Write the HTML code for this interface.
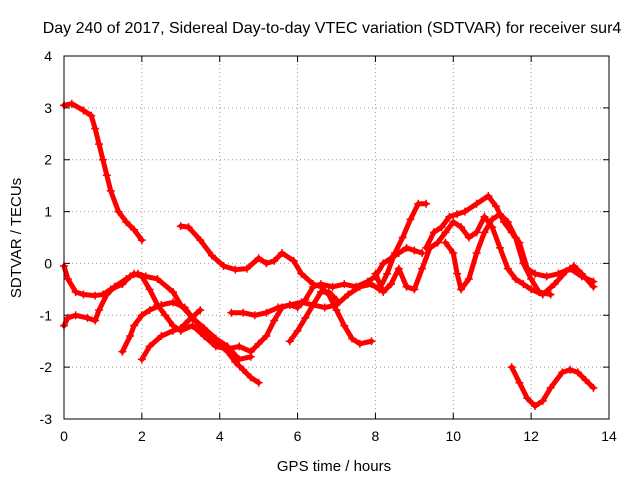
<!DOCTYPE html>
<html><head><meta charset="utf-8"><style>
body{margin:0;background:#fff}
svg{display:block;font-family:"Liberation Sans",sans-serif}
</style></head><body>
<svg width="640" height="480">
<text x="332" y="33" text-anchor="middle" font-size="16">Day 240 of 2017, Sidereal Day-to-day VTEC variation (SDTVAR) for receiver sur4</text>
<text x="334" y="471" text-anchor="middle" font-size="15">GPS time / hours</text>
<text transform="translate(21,238) rotate(-90)" text-anchor="middle" font-size="15">SDTVAR / TECUs</text>
<g id="grid"></g><g id="series"></g>
<rect x="64" y="56" width="545" height="363" fill="none" stroke="#000"/>
</svg>
<script>
const xTicks=[0,2,4,6,8,10,12,14];
const yTicks=[-3,-2,-1,0,1,2,3,4];
const sA=[[0,3.05],[0.2,3.08],[0.5,2.95],[0.7,2.85],[0.8,2.6],[0.9,2.3],[1.0,2.0],[1.1,1.7],[1.2,1.4],[1.4,1.0],[1.6,0.8],[1.8,0.65],[2.0,0.45]];
const sB=[[0,-0.05],[0.1,-0.3],[0.3,-0.55],[0.5,-0.6],[0.8,-0.62],[1.0,-0.6],[1.2,-0.5],[1.5,-0.4],[1.7,-0.25],[1.9,-0.2],[2.1,-0.25],[2.4,-0.3],[2.8,-0.55],[3.0,-0.8],[3.3,-1.05],[3.6,-1.3],[3.9,-1.5],[4.2,-1.7],[4.4,-1.9],[4.6,-2.05],[4.8,-2.2],[5.0,-2.3]];
const sC=[[0,-1.2],[0.1,-1.05],[0.3,-1.0],[0.6,-1.05],[0.8,-1.1],[0.9,-0.9],[1.1,-0.6],[1.3,-0.45],[1.6,-0.3],[1.8,-0.2],[2.0,-0.25],[2.2,-0.5],[2.4,-0.8],[2.6,-1.0],[2.8,-1.2],[3.0,-1.3],[3.3,-1.2],[3.6,-1.4],[3.9,-1.6],[4.2,-1.65],[4.5,-1.6],[4.8,-1.7],[5.0,-1.55],[5.2,-1.4],[5.4,-1.1],[5.6,-0.85],[5.8,-0.8],[6.0,-0.85],[6.2,-0.7],[6.4,-0.45],[6.6,-0.4],[6.9,-0.45],[7.2,-0.4],[7.5,-0.45],[7.8,-0.35],[8.0,-0.25],[8.2,0.0],[8.4,0.1],[8.6,0.2],[8.8,0.3],[9.0,0.25],[9.2,0.2]];
const sD=[[1.5,-1.7],[1.7,-1.4],[1.8,-1.2],[2.0,-1.0],[2.2,-0.9],[2.5,-0.8],[2.8,-0.75],[3.1,-0.85],[3.3,-1.05],[3.6,-1.25],[3.9,-1.45],[4.2,-1.6],[4.5,-1.85],[4.8,-1.8]];
const sE=[[2.0,-1.85],[2.2,-1.6],[2.5,-1.4],[2.8,-1.3],[3.0,-1.25],[3.2,-1.1],[3.5,-0.9]];
const sF=[[3.0,0.72],[3.2,0.7],[3.5,0.45],[3.8,0.15],[4.1,-0.05],[4.4,-0.12],[4.7,-0.1],[5.0,0.1],[5.2,0.0],[5.4,0.05],[5.6,0.2],[5.9,0.05],[6.1,-0.2],[6.4,-0.4],[6.6,-0.45],[6.8,-0.6],[7.0,-0.9],[7.2,-1.2],[7.4,-1.45],[7.6,-1.55],[7.9,-1.5]];
const sG=[[4.3,-0.95],[4.6,-0.95],[4.9,-1.0],[5.2,-0.95],[5.5,-0.85],[5.8,-0.8],[6.1,-0.75],[6.4,-0.8],[6.7,-0.85],[7.0,-0.8],[7.3,-0.6],[7.6,-0.45],[7.9,-0.4],[8.1,-0.5],[8.3,-0.2],[8.5,0.2],[8.7,0.5],[8.9,0.85],[9.1,1.15],[9.3,1.15]];
const sH=[[5.8,-1.5],[6.0,-1.3],[6.2,-1.05],[6.4,-0.8],[6.6,-0.55],[6.8,-0.55],[7.0,-0.7]];
const sI=[[8.0,-0.2],[8.2,-0.55],[8.4,-0.4],[8.6,-0.1],[8.8,-0.45],[9.0,-0.5],[9.2,-0.1],[9.4,0.3],[9.6,0.4],[9.8,0.6],[10.0,0.8],[10.2,0.7],[10.4,0.5],[10.6,0.6],[10.8,0.9],[11.0,0.7],[11.2,0.3],[11.4,-0.1],[11.6,-0.3],[11.8,-0.4],[12.0,-0.5],[12.3,-0.6],[12.6,-0.4],[12.9,-0.15],[13.1,-0.05],[13.3,-0.2],[13.6,-0.45]];
const sJ=[[9.3,0.3],[9.5,0.6],[9.7,0.7],[9.9,0.9],[10.1,0.95],[10.3,1.0],[10.6,1.15],[10.9,1.3],[11.1,1.1],[11.3,0.8],[11.5,0.6],[11.7,0.4],[11.9,-0.1],[12.1,-0.2],[12.4,-0.25],[12.7,-0.2],[13.0,-0.1],[13.3,-0.25],[13.6,-0.35]];
const sK=[[9.8,0.4],[10.0,0.2],[10.1,-0.2],[10.2,-0.5],[10.4,-0.3],[10.6,0.2],[10.8,0.6],[11.0,0.85],[11.2,0.95],[11.4,0.8],[11.6,0.5],[11.8,0.0],[12.0,-0.3],[12.2,-0.55],[12.5,-0.6]];
const sL=[[11.5,-2.0],[11.7,-2.3],[11.9,-2.6],[12.1,-2.75],[12.3,-2.65],[12.5,-2.4],[12.8,-2.1],[13.0,-2.05],[13.2,-2.1],[13.4,-2.25],[13.6,-2.4]];
const seriesList=[sA,sB,sC,sD,sE,sF,sG,sH,sI,sJ,sK,sL];
const NS="http://www.w3.org/2000/svg";
const X0=64,X1=609,Y0=419,Y1=56;
const xs=v=>X0+(v-0)/(14-0)*(X1-X0);
const ys=v=>Y0-(v+3)/(4+3)*(Y0-Y1);
const grid=document.getElementById('grid');
xTicks.forEach(t=>{
  const x=xs(t);
  if(t>0&&t<14){const l=document.createElementNS(NS,'line');
  l.setAttribute('x1',x);l.setAttribute('x2',x);l.setAttribute('y1',Y1);l.setAttribute('y2',Y0);
  l.setAttribute('stroke','#999');l.setAttribute('stroke-dasharray','1,3');
  
  
  grid.appendChild(l);}
  const tk=document.createElementNS(NS,'path');
  tk.setAttribute('d',`M${x},${Y0}v-6M${x},${Y1}v6`);tk.setAttribute('stroke','#000');
  
  
  grid.appendChild(tk);
  const tx=document.createElementNS(NS,'text');
  tx.setAttribute('x',x);tx.setAttribute('y',Y0+22);tx.setAttribute('text-anchor','middle');tx.setAttribute('font-size','14');
  tx.textContent=t;
  
  
  grid.appendChild(tx);
});
yTicks.forEach(t=>{
  const y=ys(t);
  if(t>-3&&t<4){const l=document.createElementNS(NS,'line');
  l.setAttribute('x1',X0);l.setAttribute('x2',X1);l.setAttribute('y1',y);l.setAttribute('y2',y);
  l.setAttribute('stroke','#999');l.setAttribute('stroke-dasharray','1,3');
  
  
  grid.appendChild(l);}
  const tk=document.createElementNS(NS,'path');
  tk.setAttribute('d',`M${X0},${y}h6M${X1},${y}h-6`);tk.setAttribute('stroke','#000');
  
  
  grid.appendChild(tk);
  const tx=document.createElementNS(NS,'text');
  tx.setAttribute('x',X0-12);tx.setAttribute('y',y+5);tx.setAttribute('text-anchor','end');tx.setAttribute('font-size','14');
  tx.textContent=t;
  
  
  grid.appendChild(tx);
});
const sg=document.getElementById('series');
seriesList.forEach((s,i)=>{
  const p=document.createElementNS(NS,'polyline');
  p.setAttribute('points',s.map(d=>xs(d[0])+','+ys(d[1])).join(' '));
  p.setAttribute('fill','none');p.setAttribute('stroke','#f00');p.setAttribute('stroke-width','5');
  p.setAttribute('stroke-linejoin','round');p.setAttribute('stroke-linecap','round');
  
  
  sg.appendChild(p);
  s.forEach(d=>{
    const m=document.createElementNS(NS,'path');
    const x=xs(d[0]),y=ys(d[1]);
    m.setAttribute('d',`M${x-4},${y}h8M${x},${y-4}v8`);m.setAttribute('stroke','#f00');m.setAttribute('stroke-width','1.5');
    
    
    sg.appendChild(m);
  });
});
</script>
</body></html>
